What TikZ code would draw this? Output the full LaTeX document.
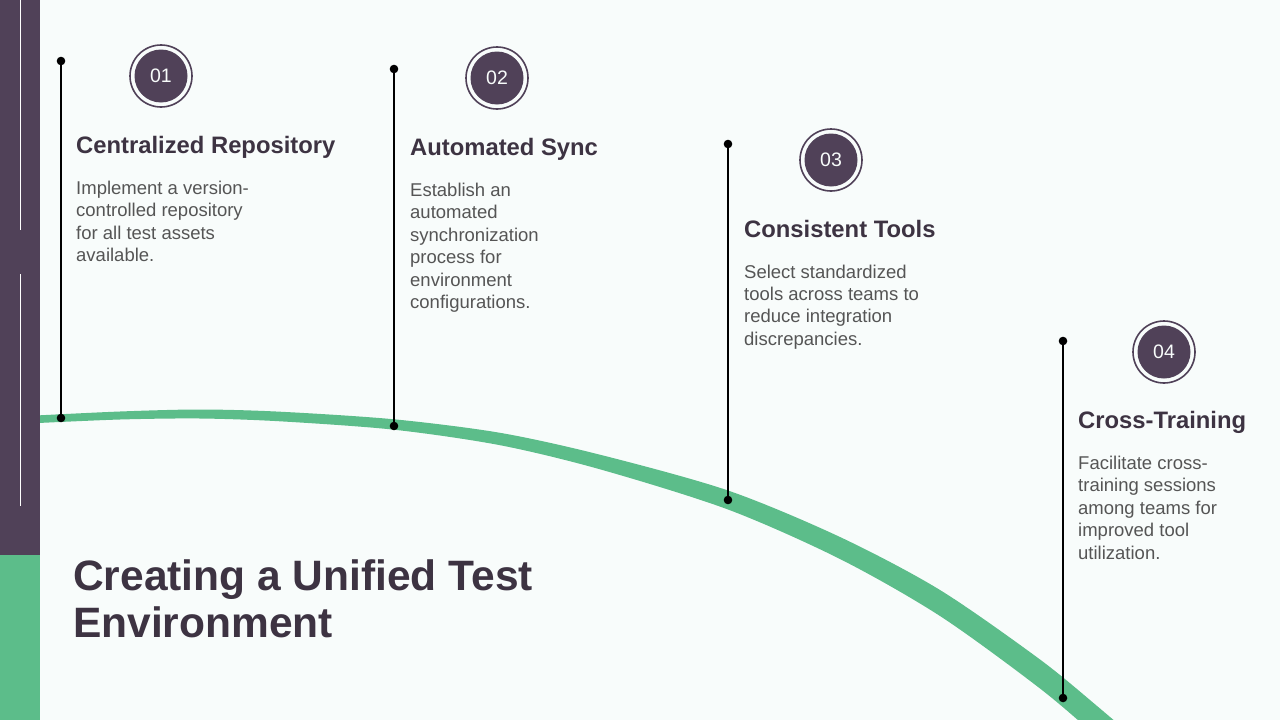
\documentclass[tikz,border=0pt]{standalone}
\usepackage{fontspec}
\setmainfont{Liberation Sans}
\definecolor{bgc}{HTML}{F8FCFB}
\definecolor{plum}{HTML}{504158}
\definecolor{leaf}{HTML}{5CBD8A}
\definecolor{headc}{HTML}{3D3342}
\definecolor{bodyc}{HTML}{555555}
\tikzset{
  stem/.style={draw=black, line width=1.4pt},
  ring/.style={circle, draw=plum, line width=1.6pt, fill=bgc, minimum size=62pt, inner sep=0pt},
  disc/.style={circle, fill=plum, minimum size=53pt, inner sep=0pt, text=bgc, font=\fontsize{19.5}{22}\selectfont},
  heading/.style={anchor=base west, inner sep=0pt, text=headc, font=\fontsize{23.8}{28}\selectfont\bfseries},
  body/.style={anchor=base west, inner sep=0pt, text=bodyc, font=\fontsize{18.5}{22.4}\selectfont},
  title/.style={anchor=base west, inner sep=0pt, text=headc, font=\fontsize{42.5}{47}\selectfont\bfseries},
}
\newcommand{\dotat}[1]{\fill[black] (#1) circle (4.3pt);}
\begin{document}
\begin{tikzpicture}[x=1pt,y=-1pt]
\useasboundingbox (0,0) rectangle (1280,720);
\fill[bgc] (0,0) rectangle (1280,720);
% curved band
\begin{scope}
\clip (0,0) rectangle (1280,720);
\fill[leaf] plot[smooth] coordinates {(30,415.8) (120,411.5) (200,409.5) (280,411.7) (394,419.3) (500,432.8) (600,454.7) (728,490.5) (840,537) (940,590) (1040,659.5) (1100,708.5) (1150,751.5)}
 -- plot[smooth] coordinates {(1150,784.5) (1100,739.5) (1040,688.5) (940,616) (840,559) (728,509.5) (600,469.3) (500,445.2) (394,429.7) (280,421.3) (200,418.5) (120,419.5) (30,423.4)} -- cycle;
\end{scope}
% left bar
\fill[plum] (0,0) rectangle (40,555);
\fill[leaf] (0,555) rectangle (40,720);
\draw[white, line width=1.3pt] (20.5,0) -- (20.5,230);
\draw[white, line width=1.3pt] (20.5,274) -- (20.5,506);
% stems
\coordinate (t1) at (61,61);   \coordinate (b1) at (61,418);
\coordinate (t2) at (394,69);  \coordinate (b2) at (394,426);
\coordinate (t3) at (728,144); \coordinate (b3) at (728,500);
\coordinate (t4) at (1063,341);\coordinate (b4) at (1063,698);
\foreach \i in {1,2,3,4}{\draw[stem] (t\i) -- (b\i); \dotat{t\i} \dotat{b\i}}
% number badges
\node[ring] (r1) at (161,76) {};  \node[disc] (d1) at (r1) {01};
\node[ring] (r2) at (497,78) {};  \node[disc] (d2) at (r2) {02};
\node[ring] (r3) at (831,160) {}; \node[disc] (d3) at (r3) {03};
\node[ring] (r4) at (1164,352) {};\node[disc] (d4) at (r4) {04};
% headings
\node[heading] (h1) at (76,153) {Centralized Repository};
\node[heading] (h2) at (410,155) {Automated Sync};
\node[heading] (h3) at (744,237) {Consistent Tools};
\node[heading] (h4) at (1078,428.5) {Cross-Training};
% bodies
\node[body] (p1) at (76,194.5) {\begin{tabular}[t]{@{}l@{}}Implement a version-\\controlled repository\\for all test assets\\available.\end{tabular}};
\node[body] (p2) at (410,196.5) {\begin{tabular}[t]{@{}l@{}}Establish an\\automated\\synchronization\\process for\\environment\\configurations.\end{tabular}};
\node[body] (p3) at (744,278) {\begin{tabular}[t]{@{}l@{}}Select standardized\\tools across teams to\\reduce integration\\discrepancies.\end{tabular}};
\node[body] (p4) at (1078,469.5) {\begin{tabular}[t]{@{}l@{}}Facilitate cross-\\training sessions\\among teams for\\improved tool\\utilization.\end{tabular}};
% title
\node[title] (ttl) at (73,590) {\begin{tabular}[t]{@{}l@{}}Creating a Unified Test\\Environment\end{tabular}};
\end{tikzpicture}
\end{document}
